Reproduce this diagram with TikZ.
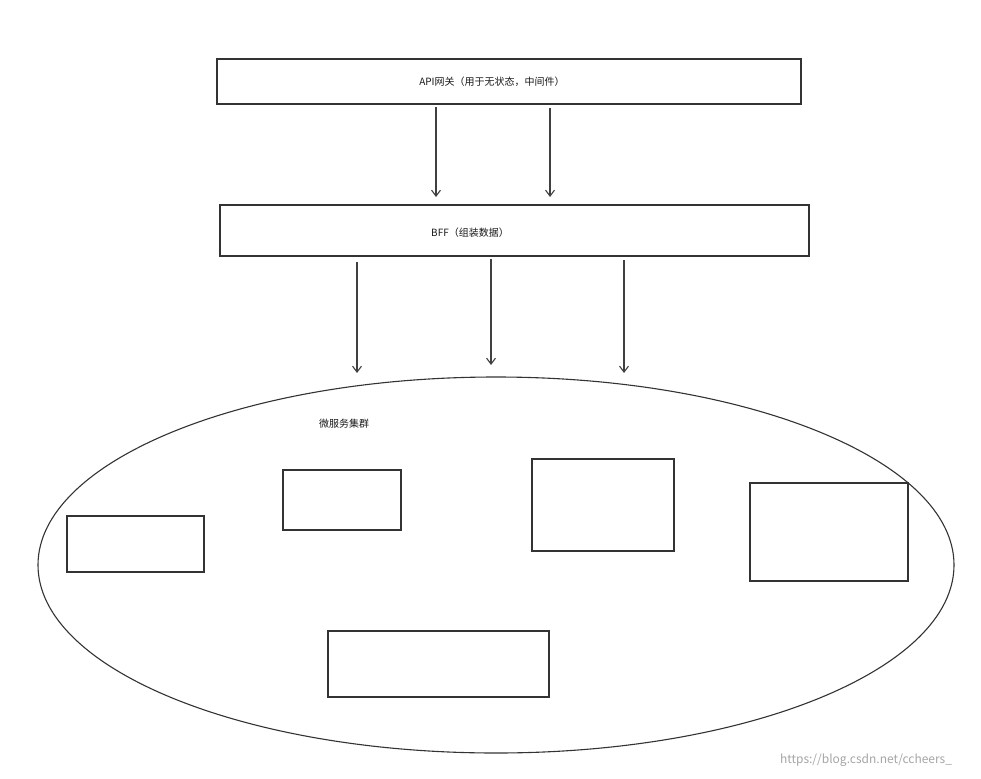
\documentclass[tikz,border=0pt]{standalone}
\usetikzlibrary{arrows.meta}
\usepackage{fontspec}
\setmainfont{Noto Sans CJK SC}
\begin{document}
\begin{tikzpicture}[x=1pt,y=-1pt,
  box/.style={draw=black!80,line width=1.1pt,inner sep=0pt},
  arr/.style={draw=black!75,line width=1.1pt,-{Straight Barb[length=6pt,width=9pt]}},
  lbl/.style={font=\fontsize{10}{11}\selectfont,text=black!90}]
\useasboundingbox (0,0) rectangle (981,778);
\fill[white] (0,0) rectangle (981,778);
\draw[box] (217,59) rectangle (801,104);
\node[lbl] (api) at (492,82) {API网关（用于无状态，中间件）};
\draw[box] (220,205) rectangle (809,256);
\node[lbl] (bff) at (470,233) {BFF（组装数据）};
\coordinate (a1) at (436,107); \coordinate (a1e) at (436,197);
\coordinate (a2) at (550,108); \coordinate (a2e) at (550,197);
\draw[arr] (a1) -- (a1e);
\draw[arr] (a2) -- (a2e);
\coordinate (b1) at (357,262); \coordinate (b1e) at (357,373);
\coordinate (b2) at (491,259); \coordinate (b2e) at (491,365);
\coordinate (b3) at (624,260); \coordinate (b3e) at (624,373);
\draw[arr] (b1) -- (b1e);
\draw[arr] (b2) -- (b2e);
\draw[arr] (b3) -- (b3e);
\draw[black!80,line width=1.1pt] (496,565) ellipse [x radius=458,y radius=188];
\node[lbl] (ms) at (344,424) {微服务集群};
\draw[box] (67,516) rectangle (204,572);
\draw[box] (283,470) rectangle (401,530);
\draw[box] (532,459) rectangle (674,551);
\draw[box] (750,483) rectangle (908,581);
\draw[box] (328,631) rectangle (549,697);
\node[font=\fontsize{12}{13}\selectfont,text=black!35] (wm) at (866,760) {https://blog.csdn.net/ccheers\_};
\end{tikzpicture}
\end{document}
